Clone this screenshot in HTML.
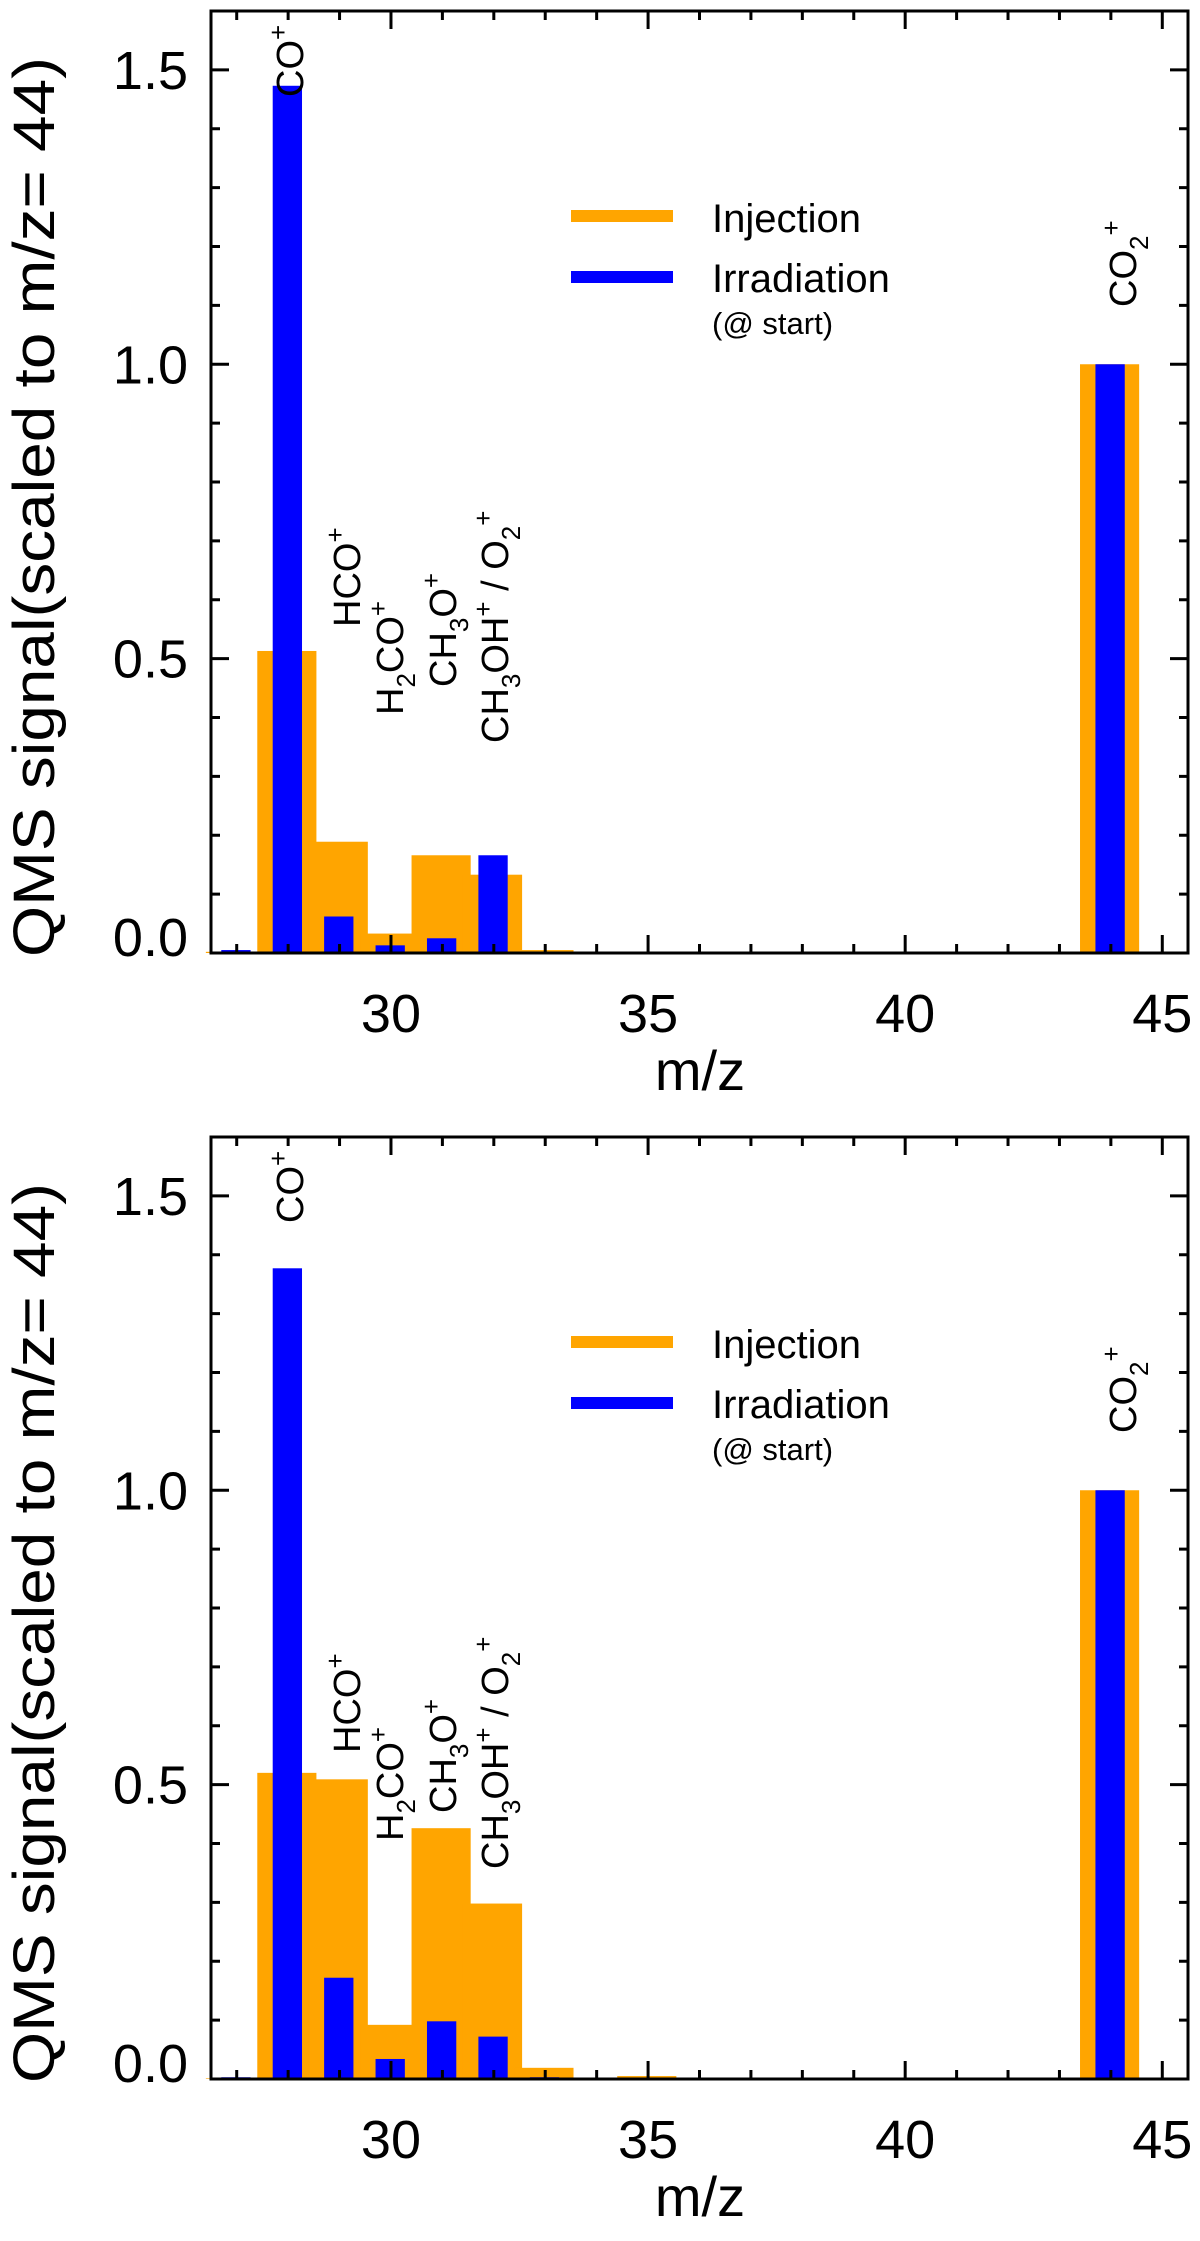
<!DOCTYPE html>
<html><head><meta charset="utf-8">
<style>
html,body{margin:0;padding:0;background:#fff;}
svg{display:block;font-family:"Liberation Sans",Arial,sans-serif;}
</style></head>
<body>
<svg id="chart" width="1200" height="2241" viewBox="0 0 1200 2241" xmlns="http://www.w3.org/2000/svg"></svg>
<script>
const mz = [27,28,29,30,31,32,33,34,35,36,37,38,39,40,41,42,43,44];
const injTop = [0.002,0.513,0.189,0.033,0.166,0.133,0.005,0.002,0.002,0.001,0.001,0.001,0.001,0.001,0.001,0.001,0.001,1.0];
const irrTop = [0.005,1.473,0.062,0.013,0.025,0.166,0.002,0.002,0.002,0.002,0.002,0.002,0.002,0.002,0.002,0.002,0.002,1.0];
const injBottom = [0.001,0.520,0.509,0.092,0.426,0.298,0.019,0.001,0.005,0.001,0.001,0.001,0.001,0.001,0.001,0.001,0.001,1.0];
const irrBottom = [0.003,1.377,0.172,0.034,0.098,0.072,0.003,0.001,0.001,0.001,0.001,0.001,0.001,0.001,0.001,0.001,0.001,1.0];
const yTickLabels = ["0.0","0.5","1.0","1.5"];
const yTickValues = [0,0.5,1.0,1.5];
const xTickValues = [30,35,40,45];

const NS="http://www.w3.org/2000/svg";
const svg=document.getElementById('chart');
const L=211,R=1188,XMIN=26.5,XMAX=45.5,YMAX=1.6,PH=942;
function xs(v){return L+(v-XMIN)*(R-L)/(XMAX-XMIN);}
function mk(tag,attrs,parent){const e=document.createElementNS(NS,tag);for(const k in attrs)e.setAttribute(k,attrs[k]);(parent||svg).appendChild(e);return e;}

function label(g,x,y,parts,name){
  const t=mk('text',{x:x,y:y,transform:`rotate(-90 ${x} ${y})`,'font-size':38,fill:'#000'},g);
  
  
  parts.forEach(p=>{
    const ts=mk('tspan',{},t);
    if(p[1]==='sub'){ts.setAttribute('font-size','26');ts.setAttribute('dy','12');}
    else if(p[1]==='sup'){ts.setAttribute('font-size','26');ts.setAttribute('dy','-16');}
    ts.textContent=p[0];
    if(p[2]) ts.setAttribute('dy',p[2]);
  });
}

function panel(off,inj,irr,idx){
  const g=mk('g',{});
  
  
  const y0=953+off, yTop=y0-PH;
  const ys=v=>y0-v*PH/YMAX;
  mz.forEach((m,i)=>{
    const r=mk('rect',{x:xs(m-0.6),y:ys(inj[i]),width:xs(m+0.55)-xs(m-0.6),height:Math.max(0,y0-ys(inj[i])),fill:'#FFA500'},g);
    
    
  });
  mz.forEach((m,i)=>{
    const r=mk('rect',{x:xs(m-0.3),y:ys(irr[i]),width:xs(m+0.27)-xs(m-0.3),height:Math.max(0,y0-ys(irr[i])),fill:'#0000FF'},g);
    
    
  });
  const fr=mk('rect',{x:L,y:yTop,width:R-L,height:PH,fill:'none',stroke:'#000','stroke-width':3},g);
  
  
  for(let k=0;k<=16;k++){
    const v=k/10, y=ys(v), major=(k%5===0), len=major?18:9;
    mk('line',{x1:L,x2:L+len,y1:y,y2:y,stroke:'#000','stroke-width':3},g);
    mk('line',{x1:R,x2:R-len,y1:y,y2:y,stroke:'#000','stroke-width':3},g);
  }
  yTickValues.forEach((v,i)=>{
    const dy = v===0 ? 3 : 19;
    const t=mk('text',{x:188,y:ys(v)+dy,'text-anchor':'end','font-size':54},g);
    
    
    t.textContent=yTickLabels[i];
  });
  for(let v=27;v<=45;v++){
    const x=xs(v), major=(v%5===0), len=major?18:9;
    mk('line',{x1:x,x2:x,y1:y0,y2:y0-len,stroke:'#000','stroke-width':3},g);
    mk('line',{x1:x,x2:x,y1:yTop,y2:yTop+len,stroke:'#000','stroke-width':3},g);
  }
  xTickValues.forEach(v=>{
    const t=mk('text',{x:xs(v),y:y0+79,'text-anchor':'middle','font-size':54},g);
    
    
    t.textContent=String(v);
  });
  const yt=mk('text',{x:54,y:507+off,transform:`rotate(-90 54 ${507+off})`,'text-anchor':'middle','font-size':58,textLength:900,lengthAdjust:'spacingAndGlyphs'},g);
  
  
  yt.textContent='QMS signal(scaled to m/z= 44)';
  const xt=mk('text',{x:700,y:1090+off,'text-anchor':'middle','font-size':56},g);
  
  
  xt.textContent='m/z';
  const l1=mk('rect',{x:571,y:210+off,width:102,height:12,fill:'#FFA500'},g);
  
  
  const l2=mk('rect',{x:571,y:271+off,width:102,height:12,fill:'#0000FF'},g);
  
  
  const t1=mk('text',{x:712,y:232+off,'font-size':40},g);
  
  
  t1.textContent='Injection';
  const t2=mk('text',{x:712,y:292+off,'font-size':40},g);
  
  
  t2.textContent='Irradiation';
  const t3=mk('text',{x:712,y:334+off,'font-size':31},g);
  
  
  t3.textContent='(@ start)';
  label(g,303,97+off,[['CO',''],['+','sup']],'label-co');
  label(g,360,627+off,[['HCO',''],['+','sup']],'label-hco');
  label(g,403,715+off,[['H',''],['2','sub'],['CO','', '-12'],['+','sup']],'label-h2co');
  label(g,456,687+off,[['CH',''],['3','sub'],['O','', '-12'],['+','sup']],'label-ch3o');
  label(g,508,743+off,[['CH',''],['3','sub'],['OH','', '-12'],['+','sup'],[' / O','', '16'],['2','sub','12'],['+','sup','-28']],'label-ch3oh-o2');
  label(g,1136,307+off,[['CO',''],['2','sub'],['+','sup','-28']],'label-co2');
}
panel(0,injTop,irrTop,'top');
panel(1126,injBottom,irrBottom,'bottom');
</script>
</body></html>
